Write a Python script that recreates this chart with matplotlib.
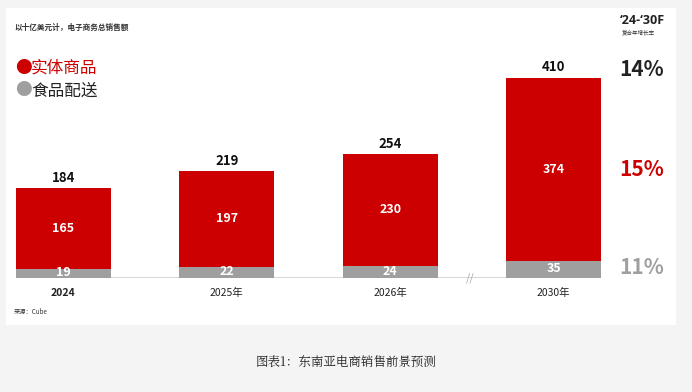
import matplotlib
matplotlib.use('Agg')
import matplotlib.pyplot as plt
from matplotlib.patches import Rectangle
import numpy as np

plt.rcParams['font.family'] = ['Noto Sans CJK SC', 'DejaVu Sans']

years    = ['2024', '2025年', '2026年', '2030年']
physical = [165, 197, 230, 374]
food     = [19, 22, 24, 35]
totals   = [184, 219, 254, 410]
cagr     = ['14%', '15%', '11%']

RED  = '#cc0000'
GRAY = '#9f9f9f'

W, H = 692, 392
fig = plt.figure(figsize=(W/100, H/100), dpi=100)
fig.patch.set_facecolor('#f4f4f4')

def px(x, y):
  return x / W, 1 - y / H

# white panel
fig.patches.append(Rectangle(px(6, 325), 670/W, 317/H, transform=fig.transFigure,
                             facecolor='white', edgecolor='none', zorder=-1))

# axes: baseline at y=278px, x from 16 to 601px
ppu = 0.49
base = 278
top = base - 440*ppu
ax = fig.add_axes([16/W, 1 - base/H, 585/W, (base-top)/H])
ax.set_xlim(-0.29, 3.29)
ax.set_ylim(0, 440)
ax.axis('off')

x = np.arange(len(years))
ax.bar(x, food, width=0.58, color=GRAY, zorder=2)
ax.bar(x, physical, width=0.58, bottom=food, color=RED, zorder=2)
ax.axhline(0, color='#d0d0d0', lw=1.2, zorder=1)

for i in range(len(years)):
  ax.text(x[i], totals[i] + 6, str(totals[i]), ha='center', va='bottom',
          fontsize=9.5, fontweight='bold', color='#111111')
  ax.text(x[i], food[i] + physical[i]/2, str(physical[i]), ha='center', va='center',
          fontsize=9, fontweight='bold', color='white')
  ax.text(x[i], food[i]/2 + 2, str(food[i]), ha='center', va='center',
          fontsize=9, fontweight='bold', color='white', zorder=3)
  ax.text(x[i], -31, years[i], ha='center', va='center', fontsize=7.5,
          fontweight='bold' if i == 0 else 'normal', color='#222222')

# axis break
ax.text(2.49, 0, '//', ha='center', va='center', fontsize=8, color='#aaaaaa',
        fontstyle='italic')

# header texts
fig.text(*px(14, 27), '以十亿美元计，电子商务总销售额', fontsize=5.5, fontweight='bold',
         color='#333333', va='center')
fig.text(*px(15, 68), '●', fontsize=12, color=RED, va='center')
fig.text(*px(31, 68), '实体商品', fontsize=12, color=RED, va='center')
fig.text(*px(15, 91), '●', fontsize=12, color=GRAY, va='center')
fig.text(*px(31, 91), '食品配送', fontsize=12, color='#222222', va='center')

# right column
fig.text(*px(642, 21), "‘24-‘30F", fontsize=9, fontweight='bold', color='#222222',
         ha='center', va='center', family=['Open Sans', 'DejaVu Sans'])
fig.text(*px(638, 33), '复合年增长率', fontsize=4, color='#333333', ha='center', va='center')
fig.text(*px(642, 70), cagr[0], fontsize=15, fontweight='bold', color='#222222',
         ha='center', va='center')
fig.text(*px(642, 170), cagr[1], fontsize=15, fontweight='bold', color=RED,
         ha='center', va='center')
fig.text(*px(642, 268), cagr[2], fontsize=15, fontweight='bold', color=GRAY,
         ha='center', va='center')

fig.text(*px(14, 312), '来源：Cube', fontsize=4.5, color='#333333', va='center')
fig.text(*px(346, 362), '图表1：东南亚电商销售前景预测', fontsize=9, color='#222222',
         ha='center', va='center', family=['Noto Serif CJK SC', 'Noto Sans CJK SC'])

fig.savefig('out.png', dpi=100, facecolor=fig.get_facecolor())
